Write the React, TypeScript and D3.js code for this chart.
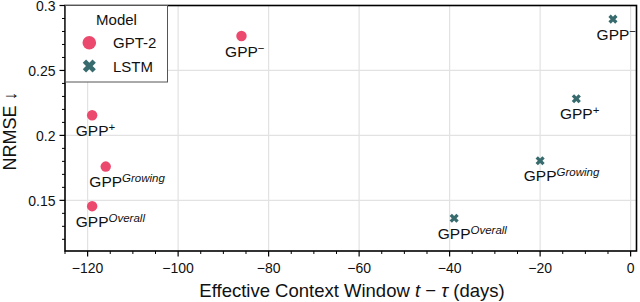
import React from "react";
import * as d3 from "d3";

const gptX = [-86, -119, -116, -119];
const gptY = [0.2765, 0.2155, 0.176, 0.1455];
const gptSup = ["−", "+", "Growing", "Overall"];

const lstmX = [-3.9, -12, -20, -39];
const lstmY = [0.2895, 0.2282, 0.1805, 0.1362];
const lstmSup = ["−", "+", "Growing", "Overall"];

const xTicks = [-120, -100, -80, -60, -40, -20, 0];
const yTicks = [0.15, 0.2, 0.25, 0.3];
const yTickLabels = ["0.15", "0.2", "0.25", "0.3"];

const seriesNames = ["GPT-2", "LSTM"];
const colors = ["#eb4a6e", "#376b6d"];

const FONT = "'Liberation Sans', Arial, Helvetica, sans-serif";

function xPath(cx: number, cy: number, L: number, t: number) {
  const pts = [
    [t, t], [t, L], [-t, L], [-t, t], [-L, t], [-L, -t],
    [-t, -t], [-t, -L], [t, -L], [t, -t], [L, -t], [L, t],
  ];
  const c = Math.SQRT1_2;
  return (
    "M" +
    pts
      .map(([px, py]) => `${(cx + (px - py) * c).toFixed(2)},${(cy + (px + py) * c).toFixed(2)}`)
      .join("L") +
    "Z"
  );
}

export default function App() {
  const left = 65, right = 636.5, top = 5.5, bottom = 251;
  const x = d3.scaleLinear().domain([-125, 1.3]).range([left, right]);
  const y = d3.scaleLinear().domain([0.111, 0.3]).range([bottom, top]);

  const xMinor = d3.range(-125, 1, 5).filter((v) => !xTicks.includes(v));
  const yMinor = d3.range(12, 30).map((v) => v / 100).filter((v) => !yTicks.some((t) => Math.abs(t - v) < 1e-9));

  const labelFs = 15.5;
  const gppW = 2.112 * labelFs;

  const renderLabel = (px: number, py: number, sup: string, key: string) => {
    const sx = x(px), sy = y(py) + 20.5;
    const italic = sup.length > 1;
    return (
      <text key={key} x={sx - gppW / 2} y={sy} fontSize={labelFs} fontFamily={FONT} fill="#111">
        GPP
        <tspan dy={-5} fontSize={italic ? 11.5 : 11.5} fontStyle={italic ? "italic" : "normal"}>
          {sup}
        </tspan>
      </text>
    );
  };

  return (
    <svg width={640} height={302} style={{ position: "absolute", left: 0, top: 0 }} fontFamily={FONT}>
      <rect x={0} y={0} width={640} height={302} fill="white" />
      {xTicks.map((t) => (
        <line key={"gx" + t} x1={x(t)} x2={x(t)} y1={top} y2={bottom} stroke="#e2e2e2" strokeWidth={1.2} />
      ))}
      {yTicks.map((t) => (
        <line key={"gy" + t} x1={left} x2={right} y1={y(t)} y2={y(t)} stroke="#e2e2e2" strokeWidth={1.2} />
      ))}
      {xTicks.map((t) => (
        <g key={"xt" + t}>
          <line x1={x(t)} x2={x(t)} y1={bottom} y2={bottom + 5.5} stroke="black" strokeWidth={1.2} />
          <text x={x(t)} y={273} textAnchor="middle" fontSize={14} fill="#111">
            {t < 0 ? "−" + Math.abs(t) : String(t)}
          </text>
        </g>
      ))}
      {xMinor.map((t) => (
        <line key={"xm" + t} x1={x(t)} x2={x(t)} y1={bottom} y2={bottom + 3} stroke="black" strokeWidth={1} />
      ))}
      {yTicks.map((t, i) => (
        <g key={"yt" + t}>
          <line x1={left} x2={left - 5.5} y1={y(t)} y2={y(t)} stroke="black" strokeWidth={1.2} />
          <text x={55.5} y={y(t) + 5.2} textAnchor="end" fontSize={14} fill="#111">
            {yTickLabels[i]}
          </text>
        </g>
      ))}
      {yMinor.map((t) => (
        <line key={"ym" + t} x1={left} x2={left - 3} y1={y(t)} y2={y(t)} stroke="black" strokeWidth={1} />
      ))}
      <rect x={left} y={top} width={right - left} height={bottom - top} fill="none" stroke="black" strokeWidth={1.6} />
      {gptX.map((v, i) => (
        <circle key={"g" + i} cx={x(v)} cy={y(gptY[i])} r={5.2} fill={colors[0]} />
      ))}
      {lstmX.map((v, i) => (
        <path key={"l" + i} d={xPath(x(v), y(lstmY[i]), 4.8, 1.65)} fill={colors[1]} />
      ))}
      {gptX.map((v, i) => renderLabel(v, gptY[i], gptSup[i], "gl" + i))}
      {lstmX.map((v, i) => renderLabel(v, lstmY[i], lstmSup[i], "ll" + i))}
      <rect x={left + 0.5} y={top} width={102} height={76.5} fill="white" stroke="#555" strokeWidth={1} />
      <text x={116.5} y={25} textAnchor="middle" fontSize={15} fill="#111">Model</text>
      <circle cx={89.3} cy={42.7} r={6.8} fill={colors[0]} />
      <text x={113} y={48.3} fontSize={15} fill="#111">{seriesNames[0]}</text>
      <path d={xPath(89.3, 66, 6.9, 2.35)} fill={colors[1]} />
      <text x={113} y={71.8} fontSize={15} fill="#111">{seriesNames[1]}</text>
      <text x={352} y={297} textAnchor="middle" fontSize={18.5} fill="#111">
        Effective Context Window <tspan fontStyle="italic">t</tspan> − <tspan fontStyle="italic">τ</tspan> (days)
      </text>
      <text transform={`translate(15.5,131) rotate(-90)`} textAnchor="middle" fontSize={18} fill="#111">
        NRMSE ↓
      </text>
    </svg>
  );
}
